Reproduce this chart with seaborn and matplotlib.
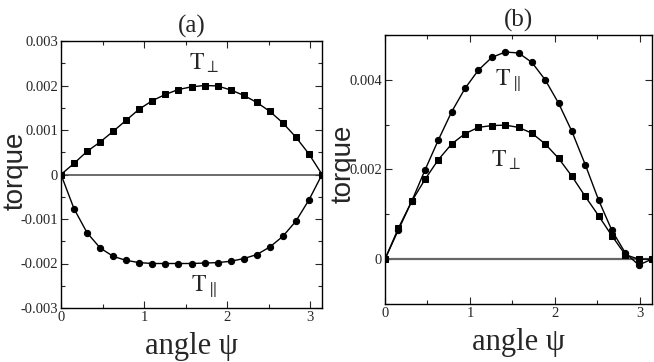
import matplotlib
matplotlib.use('Agg')
import matplotlib.pyplot as plt
import seaborn as sns
from matplotlib.ticker import MultipleLocator, FuncFormatter

# angle psi (rad) at which torques were sampled
psi = [0.0, 0.157, 0.314, 0.471, 0.628, 0.785, 0.942, 1.100, 1.257, 1.414, 1.571,
       1.728, 1.885, 2.042, 2.199, 2.356, 2.513, 2.670, 2.827, 2.985, 3.142]

# panel (a)
a_perp = [0.0, 0.00025, 0.00052, 0.00073, 0.00097, 0.00122, 0.00147, 0.00166, 0.00180, 0.00191, 0.00197,
          0.00200, 0.00199, 0.00190, 0.00178, 0.00162, 0.00142, 0.00116, 0.00084, 0.00046, 0.0]
a_par = [0.0, -0.00077, -0.00131, -0.00165, -0.00184, -0.00193, -0.00198, -0.00200, -0.00200, -0.00200, -0.00200,
         -0.00199, -0.00198, -0.00195, -0.00189, -0.00180, -0.00163, -0.00139, -0.00105, -0.00057, 0.0]

# panel (b)
b_par = [0.0, 0.00065, 0.00129, 0.00199, 0.00266, 0.00329, 0.00381, 0.00422, 0.00450, 0.00462, 0.00460,
         0.00439, 0.00400, 0.00348, 0.00285, 0.00211, 0.00132, 0.00064, 0.00014, -0.00013, 0.0]
b_perp = [0.0, 0.00069, 0.00129, 0.00178, 0.00222, 0.00257, 0.00280, 0.00294, 0.00298, 0.00299, 0.00294,
          0.00281, 0.00257, 0.00225, 0.00185, 0.00140, 0.00097, 0.00052, 0.00010, 0.0, 0.0]

a_yticks = [-0.003, -0.002, -0.001, 0.0, 0.001, 0.002, 0.003]
b_yticks = [0.0, 0.002, 0.004]

sns.set_style('ticks')
plt.rcParams['font.family'] = ['Liberation Serif', 'DejaVu Serif']
plt.rcParams['mathtext.fontset'] = 'stix'
plt.rcParams['axes.unicode_minus'] = False

W, H = 654, 362
fig = plt.figure(figsize=(W / 100, H / 100), dpi=100)
ax1 = fig.add_axes([61 / W, (H - 308) / H, (322 - 61) / W, (308 - 41) / H])
ax2 = fig.add_axes([385 / W, (H - 304) / H, (652 - 385) / W, (304 - 35) / H])


def fmt(v, pos):
    if abs(v) < 1e-9:
        return '0'
    return f'{v:.3f}'


def style_axes(ax, title, ymaj, ymin):
    ax.set_xlim(0, 3.1416)
    ax.xaxis.set_major_locator(MultipleLocator(1))
    ax.xaxis.set_minor_locator(MultipleLocator(0.5))
    ax.yaxis.set_major_locator(MultipleLocator(ymaj))
    ax.yaxis.set_minor_locator(MultipleLocator(ymin))
    ax.yaxis.set_major_formatter(FuncFormatter(fmt))
    ax.tick_params(which='both', direction='in', top=True, right=True, labelsize=10.5, pad=2)
    ax.tick_params(which='major', length=5, width=0.8)
    ax.tick_params(which='minor', length=3, width=0.8)
    for s in ax.spines.values():
        s.set_linewidth(1.0)
        s.set_color('black')
    ax.set_title(title, fontsize=18, pad=6)
    ax.set_xlabel('angle ψ', fontsize=22, labelpad=6)


# (a)
ax1.axhline(0, color='#444444', lw=1.1, zorder=1)
sns.lineplot(x=psi, y=a_perp, ax=ax1, color='black', lw=1, marker='s', markersize=4.5,
             markeredgecolor='black', sort=False, zorder=3)
sns.lineplot(x=psi, y=a_par, ax=ax1, color='black', lw=1, marker='o', markersize=4.5,
             markeredgecolor='black', sort=False, zorder=3)
ax1.set_ylim(-0.003, 0.003)
style_axes(ax1, '(a)', 0.001, 0.0005)
ax1.set_yticks(a_yticks)
ax1.text(1.72, 0.0025, r'$\mathrm{T}_{\perp}$', fontsize=17, ha='center', va='center')
ax1.text(1.72, -0.0025, r'$\mathrm{T}_{\parallel}$', fontsize=17, ha='center', va='center')

# (b)
ax2.axhline(0, color='#666666', lw=1.6, zorder=1)
sns.lineplot(x=psi, y=b_par, ax=ax2, color='black', lw=1, marker='o', markersize=4.5,
             markeredgecolor='black', sort=False, zorder=3)
sns.lineplot(x=psi, y=b_perp, ax=ax2, color='black', lw=1, marker='s', markersize=4.5,
             markeredgecolor='black', sort=False, zorder=3)
ax2.set_ylim(-0.001, 0.005)
style_axes(ax2, '(b)', 0.002, 0.001)
ax2.set_yticks(b_yticks)
ax2.text(1.44, 0.0040, r'$\mathrm{T}_{\parallel}$', fontsize=17, ha='center', va='center')
ax2.text(1.42, 0.0022, r'$\mathrm{T}_{\perp}$', fontsize=17, ha='center', va='center')

# y labels placed by hand so they sit where the reference has them
fig.text(16 / W, 1 - 171 / H, 'torque', rotation=90, fontsize=20, family='Liberation Sans',
         ha='center', va='center')
fig.text(344 / W, 1 - 164 / H, 'torque', rotation=90, fontsize=20, family='Liberation Sans',
         ha='center', va='center')

plt.savefig('out.png', dpi=100)
